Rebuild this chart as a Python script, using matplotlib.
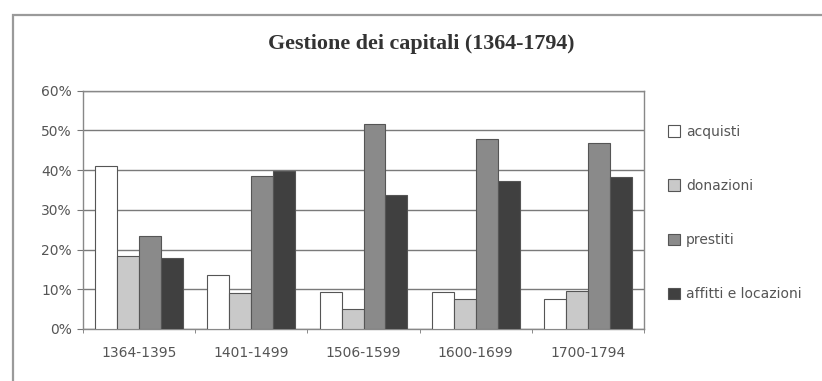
import numpy as np
import matplotlib
matplotlib.use("Agg")
import matplotlib.pyplot as plt
from matplotlib.patches import Rectangle

# Periods and share of capital by type of use
periods = ["1364-1395", "1401-1499", "1506-1599", "1600-1699", "1700-1794"]
acquisti = [41.0, 13.5, 9.4, 9.4, 7.6]
donazioni = [18.5, 9.1, 5.0, 7.6, 9.6]
prestiti = [23.5, 38.4, 51.6, 47.9, 46.8]
affitti = [18.0, 39.9, 33.8, 37.2, 38.3]

series = [acquisti, donazioni, prestiti, affitti]
labels = ["acquisti", "donazioni", "prestiti", "affitti e locazioni"]
colors = ["#ffffff", "#c9c9c9", "#8a8a8a", "#404040"]

fig = plt.figure(figsize=(8.22, 3.81), dpi=100)
fig.patch.set_facecolor("white")

# outer frame around the whole chart (cut off at the right and bottom)
fig.patches.append(Rectangle((13 / 822, -0.1), 1.2, 1 - 15 / 381 + 0.1,
                             transform=fig.transFigure, fill=False,
                             edgecolor="#9a9a9a", linewidth=1.6))

ax = fig.add_axes([83 / 822, 1 - 329 / 381, (644 - 83) / 822, (329 - 90.7) / 381])

x = np.arange(len(periods))
w = 0.196
for k, (vals, lab, col) in enumerate(zip(series, labels, colors)):
    ax.bar(x + (k - 1.5) * w, vals, width=w, color=col, edgecolor="#555555",
           linewidth=0.8, label=lab, zorder=3)

ax.set_xlim(-0.5, len(periods) - 0.5)
ax.set_ylim(0, 60)
ax.set_yticks(np.arange(0, 61, 10))
ax.set_yticklabels([f"{v}%" for v in range(0, 61, 10)])
ax.yaxis.grid(True, color="#7a7a7a", linewidth=1.0, zorder=0)
ax.set_axisbelow(True)

# category labels in the middle, small ticks between groups
ax.set_xticks(x)
ax.set_xticklabels(periods)
ax.tick_params(axis="x", length=0, pad=12.5)
ax.set_xticks(np.arange(-0.5, len(periods), 1), minor=True)
ax.tick_params(axis="x", which="minor", length=3, color="#777777")
ax.tick_params(axis="y", length=4, color="#777777", pad=4)
for lbl in ax.get_xticklabels() + ax.get_yticklabels():
    lbl.set_fontsize(10)
    lbl.set_color("#555555")
    lbl.set_family("DejaVu Sans")

for side in ["top", "right", "left", "bottom"]:
    ax.spines[side].set_color("#888888")
    ax.spines[side].set_linewidth(1.0)

fig.text(421 / 822, 1 - 44 / 381, "Gestione dei capitali (1364-1794)",
         ha="center", va="center", fontsize=15.8, fontweight="bold",
         family="Liberation Serif", color="#333333")

leg = ax.legend(loc="upper left", bbox_to_anchor=(1.02, 0.91), frameon=False,
                handlelength=0.9, handleheight=0.9, handletextpad=0.4,
                labelspacing=2.9, prop={"family": "DejaVu Sans", "size": 10})
for t in leg.get_texts():
    t.set_color("#555555")

fig.savefig("out.png", dpi=100)
